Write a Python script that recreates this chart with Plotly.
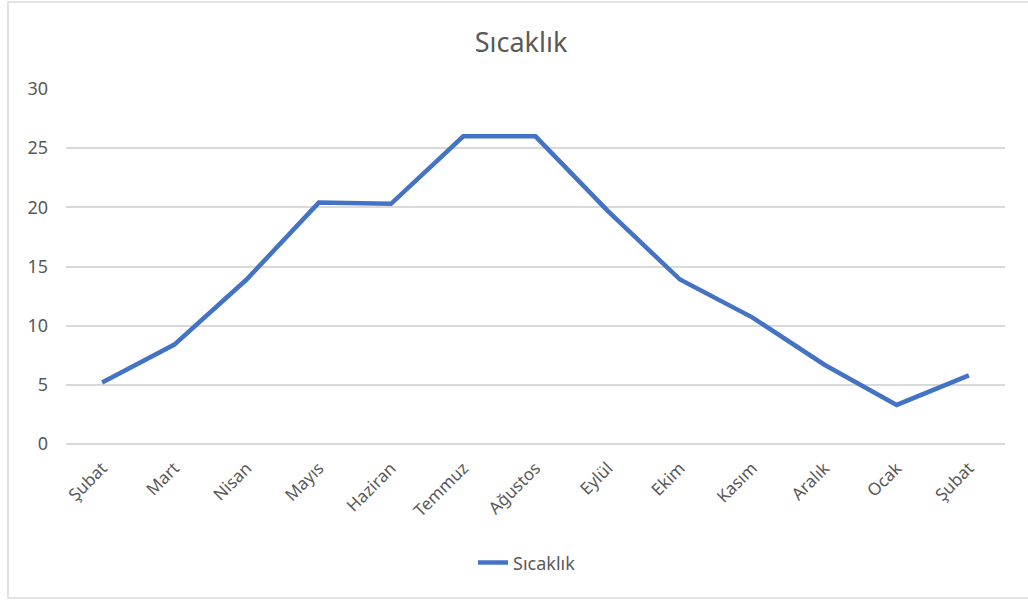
import plotly.graph_objects as go

categories = ["Şubat", "Mart", "Nisan", "Mayıs", "Haziran", "Temmuz", "Ağustos",
              "Eylül", "Ekim", "Kasım", "Aralık", "Ocak", "Şubat"]
sicaklik = [5.2, 8.4, 13.9, 20.4, 20.3, 26.0, 26.0, 19.7, 13.9, 10.7, 6.7, 3.3, 5.8]
y_ticks = [0, 5, 10, 15, 20, 25, 30]

x_pos = list(range(len(categories)))
font_family = "Noto Sans, Open Sans, sans-serif"
gray = "#595959"

fig = go.Figure()
fig.add_trace(go.Scatter(
    x=x_pos, y=sicaklik, mode="lines", name="Sıcaklık",
    line=dict(color="#4472C4", width=4.5),
))

fig.update_layout(
    width=1028, height=603,
    margin=dict(l=66, r=23, t=89, b=159),
    paper_bgcolor="white", plot_bgcolor="white",
    title=dict(text="Sıcaklık", x=521 / 1028, xref="container", xanchor="center",
               y=1 - 43 / 603, yref="container",
               yanchor="middle", font=dict(family=font_family, size=27, color=gray)),
    font=dict(family=font_family, color=gray, size=17),
    showlegend=True,
    legend=dict(orientation="h", x=(473 - 66) / 939, xanchor="left", y=-0.335, yanchor="middle",
                font=dict(size=18, color=gray), itemwidth=30),
    xaxis=dict(range=[-0.5, len(categories) - 0.5], tickmode="array",
               tickvals=x_pos, ticktext=categories, tickangle=-45,
               showgrid=False, zeroline=False, showline=False,
               ticklabelstandoff=10, tickfont=dict(size=17, color=gray)),
    yaxis=dict(range=[0, 30], tickmode="array", tickvals=y_ticks,
               showgrid=True, gridcolor="#d9d9d9", gridwidth=1.5,
               zeroline=True, zerolinecolor="#d9d9d9", zerolinewidth=1.5,
               showline=False, ticklabelstandoff=17,
               tickfont=dict(size=18, color=gray)),
    shapes=[dict(type="rect", xref="paper", yref="paper",
                 x0=-58/939, x1=1.03, y0=-154/355, y1=1 + 87/355,
                 line=dict(color="#d9d9d9", width=1.5), fillcolor="rgba(0,0,0,0)",
                 layer="below")],
)

fig.write_html("out.html")
